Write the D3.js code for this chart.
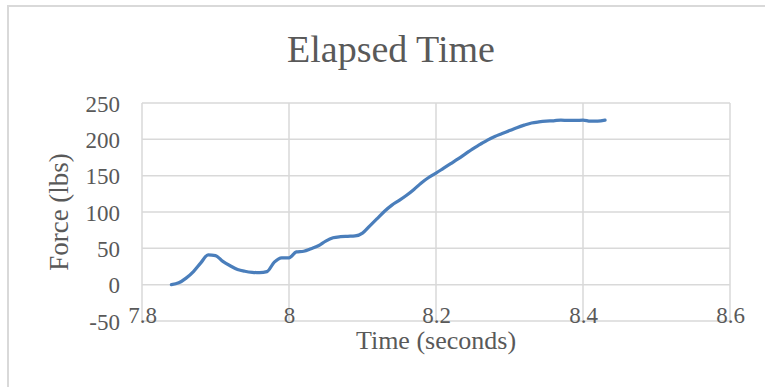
<!DOCTYPE html>
<html><head><meta charset="utf-8">
<script src="https://cdn.jsdelivr.net/npm/d3@7/dist/d3.min.js"></script>
<style>body{margin:0;background:#fff}svg{display:block}</style>
</head><body>
<svg id="c" width="765" height="387"></svg>
<script>
const times = [7.84,7.85,7.86,7.87,7.88,7.89,7.90,7.91,7.92,7.93,7.94,7.95,7.96,7.97,7.98,7.99,8.00,8.01,8.02,8.03,8.04,8.05,8.06,8.07,8.08,8.09,8.10,8.11,8.12,8.13,8.14,8.15,8.16,8.17,8.18,8.19,8.20,8.21,8.22,8.23,8.24,8.25,8.26,8.27,8.28,8.29,8.30,8.31,8.32,8.33,8.34,8.35,8.36,8.37,8.38,8.39,8.40,8.41,8.42,8.43];
const force = [0,2.5,9,18,30,41,40,32,26,21,18.5,17,16.5,18,31,37,37,45,46,49.5,53.5,60,64.5,66,66.5,67,71,81,91,101,109.5,116,123,131,140,147.5,153.5,160,166.5,173,180,187,193,199,204,208,212,216,219.5,222.5,224,225,225.5,226.5,226,226,226.5,225,225,226.5];
const xTicks = [7.8,8,8.2,8.4,8.6];
const yTicks = [-50,0,50,100,150,200,250];
const title = "Elapsed Time";
const xTitle = "Time (seconds)";
const yTitle = "Force (lbs)";

const svg = d3.select("#c");
const font = "'Liberation Serif', serif";
const txt = "#595959", grid = "#d9d9d9";
const L = 142, R = 730, T = 103, B = 321;
const x = d3.scaleLinear().domain([7.8,8.6]).range([L,R]);
const y = d3.scaleLinear().domain([-50,250]).range([B,T]);

svg.append("rect").attr("x",8).attr("y",6).attr("width",770).attr("height",400)
  .attr("fill","#fff").attr("stroke",grid).attr("stroke-width",2);

svg.append("text").attr("x",391).attr("y",62).attr("text-anchor","middle")
  .attr("font-family",font).attr("font-size",38).attr("fill",txt).text(title);

// gridlines
svg.append("g").selectAll("line").data(yTicks).join("line")
  .attr("x1",L).attr("x2",R).attr("y1",d=>y(d)).attr("y2",d=>y(d))
  .attr("stroke",grid).attr("stroke-width",1.5);
svg.append("g").selectAll("line").data(xTicks).join("line")
  .attr("x1",d=>x(d)).attr("x2",d=>x(d)).attr("y1",T).attr("y2",B)
  .attr("stroke",grid).attr("stroke-width",1.5);

// y axis labels
const ya = svg.append("g").attr("transform",`translate(${L-22},0)`)
  .call(d3.axisLeft(y).tickValues(yTicks).tickSize(0).tickPadding(0).tickFormat(d=>String(d)));
ya.select(".domain").remove();
ya.selectAll("text").attr("font-family",font).attr("font-size",23).attr("fill",txt).attr("dy","0.35em");

// x axis labels (low position)
const xa = svg.append("g").attr("transform",`translate(0,${B})`)
  .call(d3.axisBottom(x).tickValues(xTicks).tickSize(0).tickPadding(0).tickFormat(d=>String(d)));
xa.select(".domain").remove();
xa.selectAll("text").attr("font-family",font).attr("font-size",23).attr("fill",txt).attr("dy",0).attr("y",2);

svg.append("text").attr("x",(L+R)/2).attr("y",349).attr("text-anchor","middle")
  .attr("font-family",font).attr("font-size",26).attr("fill",txt).text(xTitle);
svg.append("text").attr("transform",`translate(68,${(T+B)/2}) rotate(-90)`).attr("text-anchor","middle")
  .attr("font-family",font).attr("font-size",27).attr("fill",txt).text(yTitle);

const data = times.map((t,i)=>({t, f:force[i]}));
svg.append("path").datum(data)
  .attr("d", d3.line().x(d=>x(d.t)).y(d=>y(d.f)).curve(d3.curveMonotoneX))
  .attr("fill","none").attr("stroke","#4a7ebb").attr("stroke-width",3.25)
  .attr("stroke-linejoin","round").attr("stroke-linecap","round");
</script>
</body></html>
